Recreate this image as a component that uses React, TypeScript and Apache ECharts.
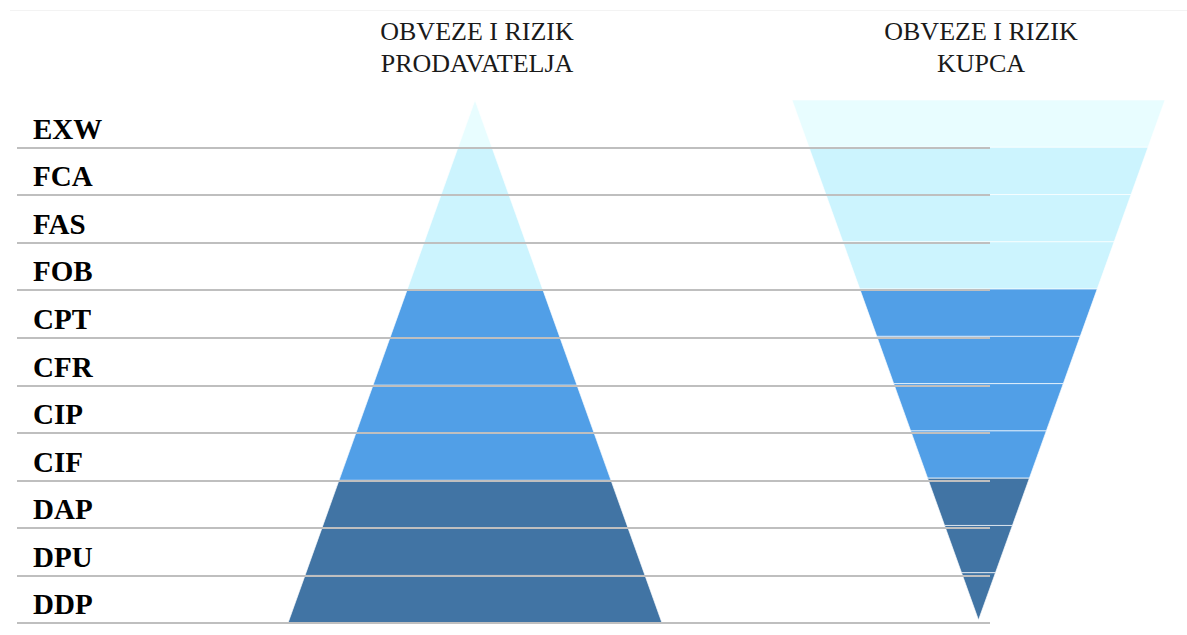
import React, { useEffect, useRef } from "react";
import * as echarts from "echarts";

// Incoterms rows, top to bottom
const terms = ["EXW", "FCA", "FAS", "FOB", "CPT", "CFR", "CIP", "CIF", "DAP", "DPU", "DDP"];
// Relative level of obligations and risk (rank) for seller and buyer
const sellerObligation = [1, 2, 3, 4, 5, 6, 7, 8, 9, 10, 11];
const buyerObligation = [11, 10, 9, 8, 7, 6, 5, 4, 3, 2, 1];
// Incoterm group of each row
const termGroup = ["E", "F", "F", "F", "C", "C", "C", "C", "D", "D", "D"];
const groupColors: Record<string, string> = {
  E: "#E8FDFF",
  F: "#CCF4FE",
  C: "#519FE7",
  D: "#4174A4",
};
const titles = ["OBVEZE I RIZIK\nPRODAVATELJA", "OBVEZE I RIZIK\nKUPCA"];

const SERIF = "'Liberation Serif', 'Times New Roman', serif";

export default function App() {
  const ref = useRef<HTMLDivElement>(null);

  useEffect(() => {
    if (!ref.current) return;
    const chart = echarts.init(ref.current, undefined, { renderer: "svg" });

    const makeData = (vals: number[]) =>
      terms.map((t, i) => ({
        name: t,
        value: vals[i],
        itemStyle: { color: groupColors[termGroup[i]] },
      }));

    const funnelCommon = {
      type: "funnel",
      min: 0,
      max: 11,
      minSize: "0%",
      maxSize: "100%",
      gap: 0,
      silent: true,
      label: { show: false },
      labelLine: { show: false },
      itemStyle: { borderColor: "rgba(255,255,255,0.65)", borderWidth: 1 },
      emphasis: { disabled: true },
      z: 2,
    };

    const titleStyle = {
      fontFamily: SERIF,
      fontWeight: "normal",
      fontSize: 26,
      lineHeight: 32,
      color: "#1a1a1a",
    };

    chart.setOption({
      animation: false,
      backgroundColor: "#ffffff",
      title: [
        { text: titles[0], left: 477, top: 15, padding: 0, textAlign: "center", textStyle: titleStyle },
        { text: titles[1], left: 981, top: 15, padding: 0, textAlign: "center", textStyle: titleStyle },
      ],
      grid: { left: 17, top: 100, width: 973, height: 523, containLabel: false },
      xAxis: { type: "value", show: false, min: 0, max: 1 },
      yAxis: {
        type: "category",
        data: terms,
        inverse: true,
        z: 10,
        axisLine: { show: false },
        axisTick: { show: false },
        axisLabel: {
          inside: true,
          interval: 0,
          margin: 16,
          fontFamily: SERIF,
          fontWeight: "bold",
          fontSize: 29,
          color: "#000000",
          verticalAlign: "top",
          lineHeight: 10,
        },
        splitLine: {
          show: true,
          interval: 0,
          showMinLine: false,
          showMaxLine: true,
          lineStyle: { color: "#bfbfbf", width: 2 },
        },
      },
      graphic: [
        {
          type: "line",
          shape: { x1: 10, y1: 10.5, x2: 1187, y2: 10.5 },
          style: { stroke: "#f3f3f3", lineWidth: 1 },
          silent: true,
        },
      ],
      series: [
        {
          ...funnelCommon,
          name: "Prodavatelj",
          left: 288,
          top: 100,
          width: 374,
          height: 523,
          sort: "ascending",
          data: makeData(sellerObligation),
        },
        {
          ...funnelCommon,
          name: "Kupac",
          left: 792,
          top: 100,
          width: 373,
          height: 520,
          sort: "descending",
          data: makeData(buyerObligation),
        },
      ],
    });

    return () => chart.dispose();
  }, []);

  return (
    <div
      ref={ref}
      style={{ position: "fixed", left: 0, top: 0, width: 1187, height: 635, background: "#fff" }}
    />
  );
}
